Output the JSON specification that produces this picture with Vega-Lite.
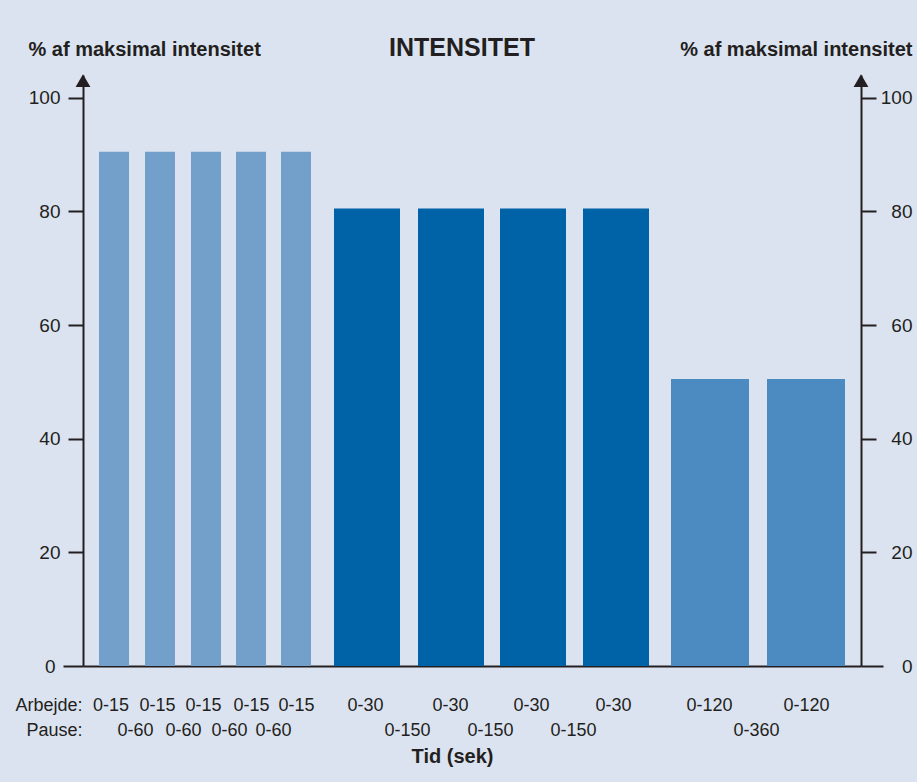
{
  "$schema": "https://vega.github.io/schema/vega-lite/v6.json",
  "width": 778,
  "height": 591,
  "autosize": {"type": "none"},
  "padding": {"left": 83, "top": 75, "right": 56, "bottom": 116},
  "background": "#dce3f0",
  "title": {
    "text": "INTENSITET",
    "fontSize": 25,
    "fontWeight": "bold",
    "font": "Liberation Sans",
    "color": "#231f20",
    "baseline": "alphabetic",
    "offset": -42,
    "dx": -10
  },
  "config": {
    "view": {"stroke": null},
    "font": "Liberation Sans",
    "axis": {
      "labelFont": "Liberation Sans",
      "titleFont": "Liberation Sans",
      "labelColor": "#231f20",
      "titleColor": "#231f20",
      "domainColor": "#231f20",
      "tickColor": "#231f20",
      "grid": false
    }
  },
  "layer": [
    {
      "data": {
        "values": [
          {"arbejde": "0-15", "start": 16, "end": 46, "intensitet": 90.5, "gruppe": "A"},
          {"arbejde": "0-15", "start": 62, "end": 92, "intensitet": 90.5, "gruppe": "A"},
          {"arbejde": "0-15", "start": 108, "end": 138, "intensitet": 90.5, "gruppe": "A"},
          {"arbejde": "0-15", "start": 153, "end": 183, "intensitet": 90.5, "gruppe": "A"},
          {"arbejde": "0-15", "start": 198, "end": 228, "intensitet": 90.5, "gruppe": "A"},
          {"arbejde": "0-30", "start": 251, "end": 317, "intensitet": 80.5, "gruppe": "B"},
          {"arbejde": "0-30", "start": 335, "end": 401, "intensitet": 80.5, "gruppe": "B"},
          {"arbejde": "0-30", "start": 417, "end": 483, "intensitet": 80.5, "gruppe": "B"},
          {"arbejde": "0-30", "start": 500, "end": 566, "intensitet": 80.5, "gruppe": "B"},
          {"arbejde": "0-120", "start": 588, "end": 666, "intensitet": 50.5, "gruppe": "C"},
          {"arbejde": "0-120", "start": 684, "end": 762, "intensitet": 50.5, "gruppe": "C"}
        ]
      },
      "mark": {"type": "bar"},
      "encoding": {
        "x": {
          "field": "start",
          "type": "quantitative",
          "scale": {"domain": [0, 778], "nice": false, "zero": false},
          "axis": {
            "orient": "bottom",
            "values": [27.5, 74, 120, 168, 213, 282, 367, 448, 530, 626, 723],
            "labelExpr": "datum.value < 240 ? '0-15' : datum.value < 580 ? '0-30' : '0-120'",
            "ticks": false,
            "domain": true,
            "domainWidth": 2,
            "labelPadding": 44,
            "labelBaseline": "alphabetic",
            "labelFontSize": 18,
            "labelFlush": false,
            "labelOverlap": false,
            "title": "Arbejde:",
            "titleX": -1,
            "titleY": 44,
            "titleAlign": "right",
            "titleBaseline": "alphabetic",
            "titleFontSize": 18,
            "titleFontWeight": "normal",
            "titleAngle": 0
          }
        },
        "x2": {"field": "end"},
        "y": {
          "field": "intensitet",
          "type": "quantitative",
          "scale": {"domain": [0, 104], "nice": false},
          "axis": {
            "orient": "left",
            "values": [0, 20, 40, 60, 80, 100],
            "domainWidth": 2,
            "tickWidth": 2,
            "tickSize": {"condition": {"test": "datum.value === 0", "value": 20}, "value": 15},
            "labelPadding": 8,
            "labelFontSize": 19,
            "title": "% af maksimal intensitet",
            "titleAngle": 0,
            "titleX": -55,
            "titleY": -20,
            "titleAlign": "left",
            "titleBaseline": "alphabetic",
            "titleFontSize": 20,
            "titleFontWeight": "bold"
          }
        },
        "y2": {"datum": 0},
        "color": {
          "field": "gruppe",
          "type": "nominal",
          "scale": {"domain": ["A", "B", "C"], "range": ["#72a0cb", "#0063a7", "#4b8bc1"]},
          "legend": null
        }
      }
    },
    {
      "data": {"values": [{"pil": "venstre"}]},
      "mark": {"type": "point", "shape": "triangle-up", "filled": true, "size": 220, "color": "#231f20", "opacity": 1},
      "encoding": {
        "x": {
          "datum": 0,
          "type": "quantitative",
          "axis": {
            "orient": "bottom",
            "values": [52, 100, 146, 190, 324, 407, 490, 673],
            "labelExpr": "datum.value < 240 ? '0-60' : datum.value < 580 ? '0-150' : '0-360'",
            "ticks": false,
            "domain": false,
            "labelPadding": 69,
            "labelBaseline": "alphabetic",
            "labelFontSize": 18,
            "labelFlush": false,
            "labelOverlap": false,
            "title": "Pause:",
            "titleX": -1,
            "titleY": 69,
            "titleAlign": "right",
            "titleBaseline": "alphabetic",
            "titleFontSize": 18,
            "titleFontWeight": "normal",
            "titleAngle": 0
          }
        },
        "y": {
          "datum": 103,
          "type": "quantitative",
          "axis": {
            "orient": "right",
            "values": [0, 20, 40, 60, 80, 100],
            "domainWidth": 2,
            "tickWidth": 2,
            "tickSize": {"condition": {"test": "datum.value === 0", "value": 22}, "value": 15},
            "labelPadding": {"condition": {"test": "datum.value === 0", "value": 29}, "value": 36},
            "labelAlign": "right",
            "labelFontSize": 19,
            "title": "% af maksimal intensitet",
            "titleAngle": 0,
            "titleX": 51,
            "titleY": -20,
            "titleAlign": "right",
            "titleBaseline": "alphabetic",
            "titleFontSize": 20,
            "titleFontWeight": "bold"
          }
        }
      }
    },
    {
      "data": {"values": [{"pil": "hoejre"}]},
      "mark": {"type": "point", "shape": "triangle-up", "filled": true, "size": 220, "color": "#231f20", "opacity": 1},
      "encoding": {
        "x": {
          "datum": 778,
          "type": "quantitative",
          "axis": {
            "orient": "bottom",
            "labels": false,
            "ticks": false,
            "domain": false,
            "title": "Tid (sek)",
            "titleX": 369,
            "titleY": 96,
            "titleAlign": "center",
            "titleBaseline": "alphabetic",
            "titleFontSize": 20,
            "titleFontWeight": "bold",
            "titleAngle": 0
          }
        },
        "y": {"datum": 103, "type": "quantitative", "axis": null}
      }
    }
  ],
  "resolve": {"axis": {"x": "independent", "y": "independent"}}
}
